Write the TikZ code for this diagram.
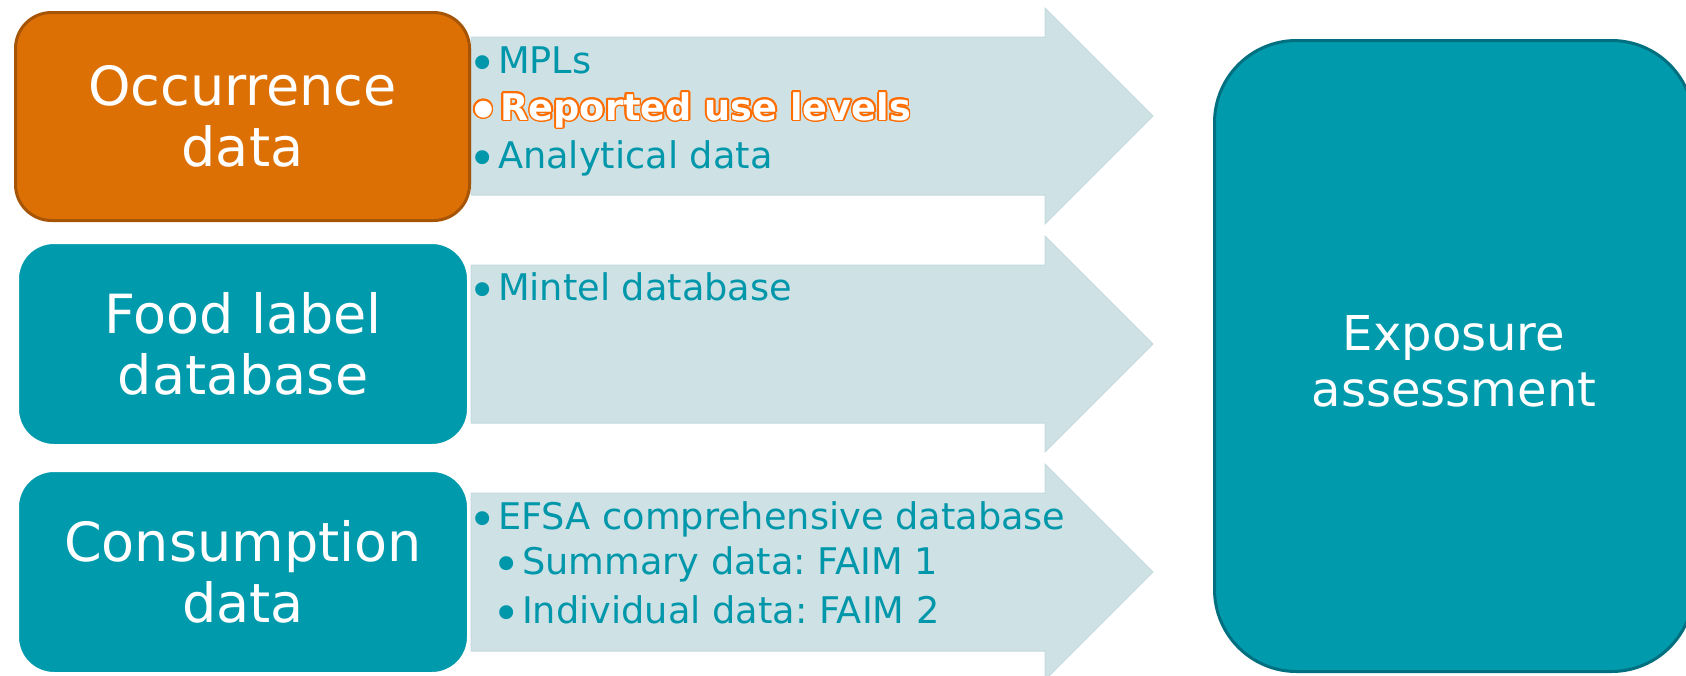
\documentclass[tikz,border=0pt]{standalone}
\usepackage{fontspec}
\setmainfont{DejaVu Sans}
\usepackage{contour}
\contourlength{1.6pt}
\frenchspacing
\definecolor{occfill}{HTML}{DD7005}
\definecolor{occline}{HTML}{A65406}
\definecolor{boxteal}{HTML}{009AAD}
\definecolor{expoline}{HTML}{006F7F}
\definecolor{arrowfill}{HTML}{CEE1E4}
\definecolor{arrowedge}{HTML}{C3DADE}
\definecolor{tealtext}{HTML}{0097AB}
\definecolor{hilite}{HTML}{FF6D00}
\newcommand{\blt}{\raisebox{-7pt}{\fontsize{48}{48}\selectfont•}\hspace{1.5pt}}

\begin{document}
\begin{tikzpicture}[x=1pt,y=-1pt,
        box/.style={rounded corners=36pt, fill=boxteal, draw=white, line width=2pt,
                        text=white, align=center, inner sep=0pt,
                        font=\fontsize{54}{61}\selectfont,
                        minimum width=450pt, minimum height=202pt},
        item/.style={anchor=base west, inner sep=0pt, text=tealtext,
                        font=\fontsize{36.7}{44}\selectfont},
        arr/.style={fill=arrowfill, draw=arrowedge, line width=1pt}]
    \useasboundingbox (0,0) rectangle (1686,675);
    % arrows behind the boxes
    \foreach \y in {116,344,572} {
        \draw[arr] (471,\y-79) -- (1045,\y-79) -- (1045,\y-108) -- (1153,\y)
            -- (1045,\y+108) -- (1045,\y+79) -- (471,\y+79) -- cycle;
    }
    \node[box, fill=occfill, draw=occline, line width=3pt,
        minimum width=454pt, minimum height=208pt] (occ) at (242.5,116.5) {Occurrence\\data};
    \node[box] (food) at (243,344) {Food label\\database};
    \node[box] (cons) at (243,572) {Consumption\\data};
    \node[box, rounded corners=82pt, draw=expoline, line width=3pt,
        minimum width=479pt, minimum height=631pt,
        font=\fontsize{48}{56}\selectfont] (expo) at (1454,356)
        {\raisebox{-18pt}[0pt][0pt]{\begin{tabular}{@{}c@{}}Exposure\\assessment\end{tabular}}};
    % bullet lists on the arrows
    \node[item] (mpl) at (468,73) {\blt MPLs};
    \node[item, text=white, font=\bfseries\fontsize{36.7}{44}\selectfont]
        (rep) at (468,120) {\contour{hilite}{\blt Reported use levels}};
    \node[item] (ana) at (468,168) {\blt Analytical data};
    \node[item] (mintel) at (468,300) {\blt Mintel database};
    \node[item] (efsa) at (468,529) {\blt EFSA comprehensive database};
    \node[item] (summ) at (492,574) {\blt Summary data: FAIM 1};
    \node[item] (indiv) at (492,623) {\blt Individual data: FAIM 2};
\end{tikzpicture}
\end{document}
